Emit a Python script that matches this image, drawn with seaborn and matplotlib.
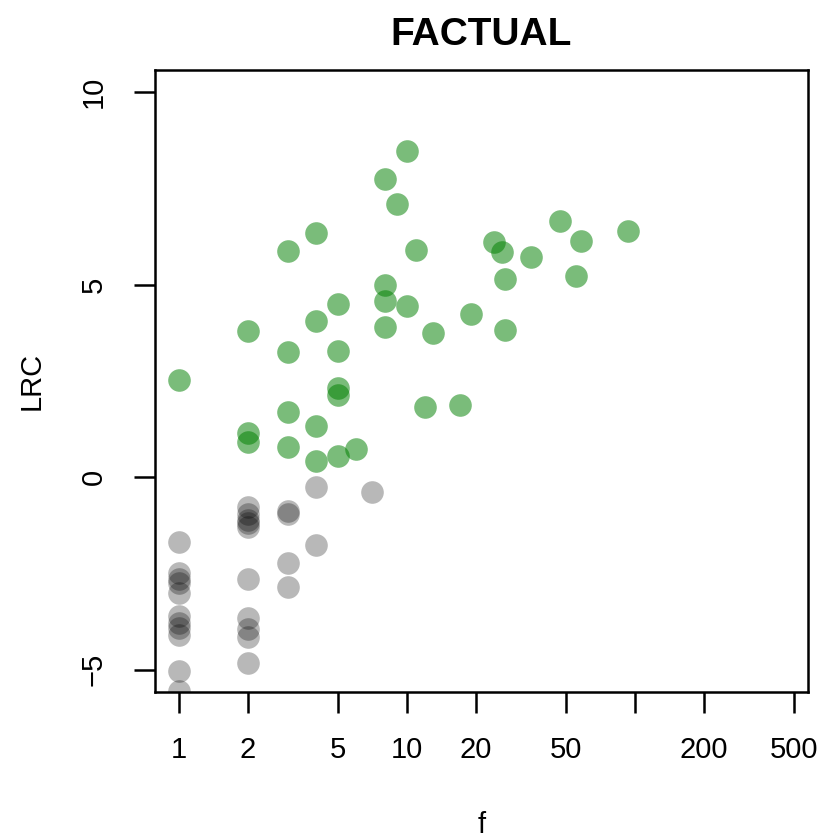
import matplotlib
matplotlib.use("Agg")
import matplotlib.pyplot as plt
from matplotlib.ticker import NullLocator
import pandas as pd
import seaborn as sns

# Non-significant features (grey)
f_other = [1, 1, 1, 1, 1, 1, 1, 1, 1, 1, 1,
           2, 2, 2, 2, 2, 2, 2, 2, 2, 2,
           3, 3, 3, 3,
           4, 4,
           7]
lrc_other = [-1.69, -2.50, -2.65, -2.75, -3.00, -3.60, -3.80, -3.93, -4.10, -5.04, -5.55,
             -0.78, -0.95, -1.12, -1.20, -1.30, -2.65, -3.65, -3.95, -4.15, -4.83,
             -0.88, -0.95, -2.23, -2.85,
             -0.26, -1.77,
             -0.39]

# Significant features (green)
f_sig = [1,
         2, 2, 2,
         3, 3, 3, 3,
         4, 4, 4, 4,
         5, 5, 5, 5, 5,
         6,
         8, 8, 8, 8,
         9,
         10, 10,
         11, 12, 13, 17, 19, 24, 26, 27, 27, 35, 47, 55, 58, 93]
lrc_sig = [2.52,
           3.78, 1.14, 0.91,
           5.87, 3.25, 1.69, 0.78,
           6.34, 4.05, 1.32, 0.42,
           4.49, 3.27, 2.31, 2.13, 0.55,
           0.73,
           7.74, 4.99, 4.57, 3.90,
           7.09,
           8.47, 4.44,
           5.90, 1.82, 3.74, 1.88, 4.23, 6.10, 5.85, 5.14, 3.82, 5.71, 6.65, 5.22, 6.13, 6.39]

x_ticks = [1, 2, 5, 10, 20, 50, 100, 200, 500]
x_tick_labels = ["1", "2", "5", "10", "20", "50", "", "200", "500"]
y_ticks = [-5, 0, 5, 10]
y_tick_labels = ["\u22125", "0", "5", "10"]

other = pd.DataFrame({"f": f_other, "LRC": lrc_other})
sig = pd.DataFrame({"f": f_sig, "LRC": lrc_sig})

sns.set_style("white")
plt.rcParams["font.family"] = ["Liberation Sans", "DejaVu Sans"]
plt.rcParams["text.color"] = "black"

fig = plt.figure(figsize=(8.21, 8.39), dpi=100)
ax = fig.add_axes([0.1888, 0.1752, 0.7954, 0.7414])

sns.scatterplot(data=other, x="f", y="LRC", color="black", alpha=0.28,
                s=265, linewidth=0, ax=ax)
sns.scatterplot(data=sig, x="f", y="LRC", color="#008000", alpha=0.52,
                s=265, linewidth=0, ax=ax)

ax.set_xscale("log")
ax.set_xlim(0.785, 574)
ax.set_ylim(-5.58, 10.57)

ax.set_xticks(x_ticks)
ax.set_xticklabels(x_tick_labels)
ax.xaxis.set_minor_locator(NullLocator())
ax.set_yticks(y_ticks)
ax.set_yticklabels(y_tick_labels, rotation=90, va="center")

ax.tick_params(axis="both", direction="out", length=15, width=1.8,
               labelsize=21, color="black", labelcolor="black",
               bottom=True, left=True, top=False, right=False)
ax.tick_params(axis="x", pad=17)
ax.tick_params(axis="y", pad=19)

for side in ["left", "right", "top", "bottom"]:
    ax.spines[side].set_visible(True)
    ax.spines[side].set_color("black")
    ax.spines[side].set_linewidth(1.8)

ax.set_title("FACTUAL", fontsize=28, fontweight="bold", pad=18, color="black")
ax.set_xlabel("f", fontsize=21, color="black")
ax.set_ylabel("LRC", fontsize=21, color="black")
ax.xaxis.set_label_coords(0.5, -0.192)
ax.yaxis.set_label_coords(-0.167, 0.5)

fig.savefig("out.png", dpi=100, facecolor="white")
